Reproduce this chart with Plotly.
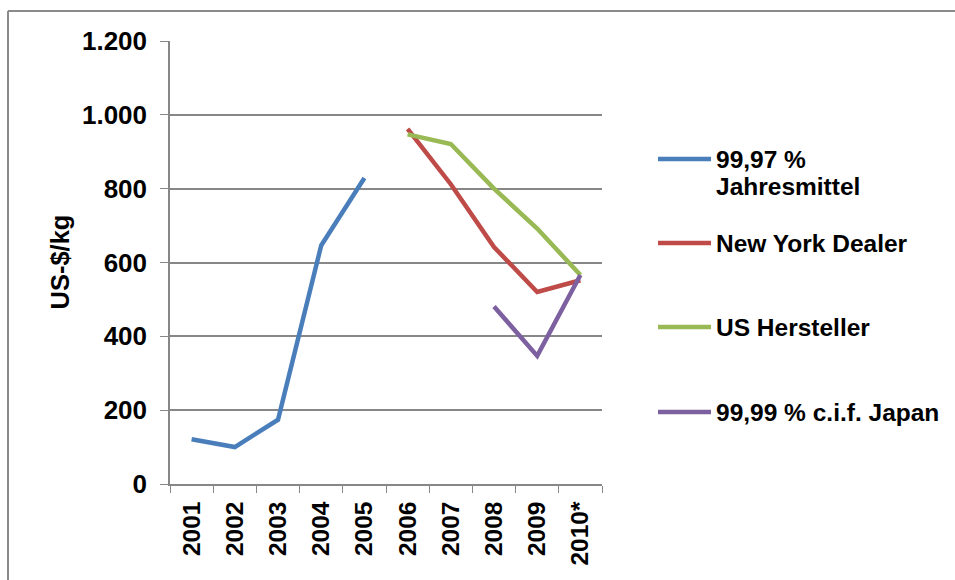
import plotly.graph_objects as go

# Jahresdurchschnittspreise in US-$/kg
years = ["2001", "2002", "2003", "2004", "2005", "2006", "2007", "2008", "2009", "2010*"]
jahresmittel = [121, 100, 174, 646, 829, None, None, None, None, None]
new_york_dealer = [None, None, None, None, None, 962, 812, 642, 520, 552]
us_hersteller = [None, None, None, None, None, 947, 921, 800, 692, 566]
cif_japan = [None, None, None, None, None, None, None, 481, 347, 566]

series_names = ["99,97 %\nJahresmittel", "New York Dealer", "US Hersteller", "99,99 % c.i.f. Japan"]
series_values = [jahresmittel, new_york_dealer, us_hersteller, cif_japan]
series_colors = ["#4A7EBB", "#BE4B48", "#98B954", "#7D60A0"]

y_ticks = [0, 200, 400, 600, 800, 1000, 1200]

W, H = 955, 580
L, R, T, B = 170, 602, 41, 484  # plot area in pixels
PW, PH = R - L, B - T

def px_x(px):
    return (px - L) / PW

def px_y(py):
    return (B - py) / PH

FONT = "Liberation Sans, Arial, sans-serif"
GRID = "#878787"

fig = go.Figure()
for name, vals, col in zip(series_names, series_values, series_colors):
    fig.add_trace(go.Scatter(
        x=years, y=vals, mode="lines", name=name.replace("\n", " "),
        line=dict(color=col, width=4.5), connectgaps=False, showlegend=False,
    ))

# Legend built from swatches and labels on the right
legend_y = [159, 243, 327, 412]
shapes = []
annotations = []
for name, col, cy in zip(series_names, series_colors, legend_y):
    shapes.append(dict(type="line", xref="paper", yref="paper",
                       x0=px_x(658), x1=px_x(711), y0=px_y(cy), y1=px_y(cy),
                       line=dict(color=col, width=4.5)))
    for i, part in enumerate(name.split("\n")):
        annotations.append(dict(xref="paper", yref="paper", x=px_x(714), y=px_y(cy + 27 * i),
                                xanchor="left", yanchor="middle", showarrow=False, text=part,
                                font=dict(family=FONT, size=24.5, color="black", weight="bold")))

# Axis title
annotations.append(dict(xref="paper", yref="paper", x=px_x(59), y=0.5, textangle=-90,
                        xanchor="center", yanchor="middle", showarrow=False, text="US-$/kg",
                        font=dict(family=FONT, size=25.5, color="black", weight="bold")))

# Outer frame (left and top edges)
shapes.append(dict(type="line", xref="paper", yref="paper",
                   x0=px_x(8), x1=px_x(8), y0=px_y(11), y1=px_y(600),
                   line=dict(color="#8a8a8a", width=2)))
shapes.append(dict(type="line", xref="paper", yref="paper",
                   x0=px_x(8), x1=px_x(970), y0=px_y(11), y1=px_y(11),
                   line=dict(color="#8a8a8a", width=2)))

fig.update_layout(
    width=W, height=H,
    margin=dict(l=L, r=W - R, t=T, b=H - B, pad=0),
    paper_bgcolor="white", plot_bgcolor="white",
    separators=",.",
    shapes=shapes, annotations=annotations,
    xaxis=dict(
        type="category", range=[-0.5, 9.5], tickangle=-90,
        tickson="boundaries", ticks="outside", ticklen=7, tickcolor=GRID,
        showline=True, linecolor=GRID, linewidth=1.5, showgrid=False,
        tickfont=dict(family=FONT, size=24.5, color="black", weight="bold"),
        ticklabelstandoff=6,
    ),
    yaxis=dict(
        range=[0, 1200], tickvals=y_ticks, tickformat=",d",
        ticks="outside", ticklen=8, tickcolor=GRID,
        showline=True, linecolor=GRID, linewidth=1.5,
        showgrid=True, gridcolor=GRID, gridwidth=1.5, zeroline=False,
        tickfont=dict(family=FONT, size=26, color="black", weight="bold"),
        ticklabelstandoff=8,
    ),
)

fig.write_html("out.html")
